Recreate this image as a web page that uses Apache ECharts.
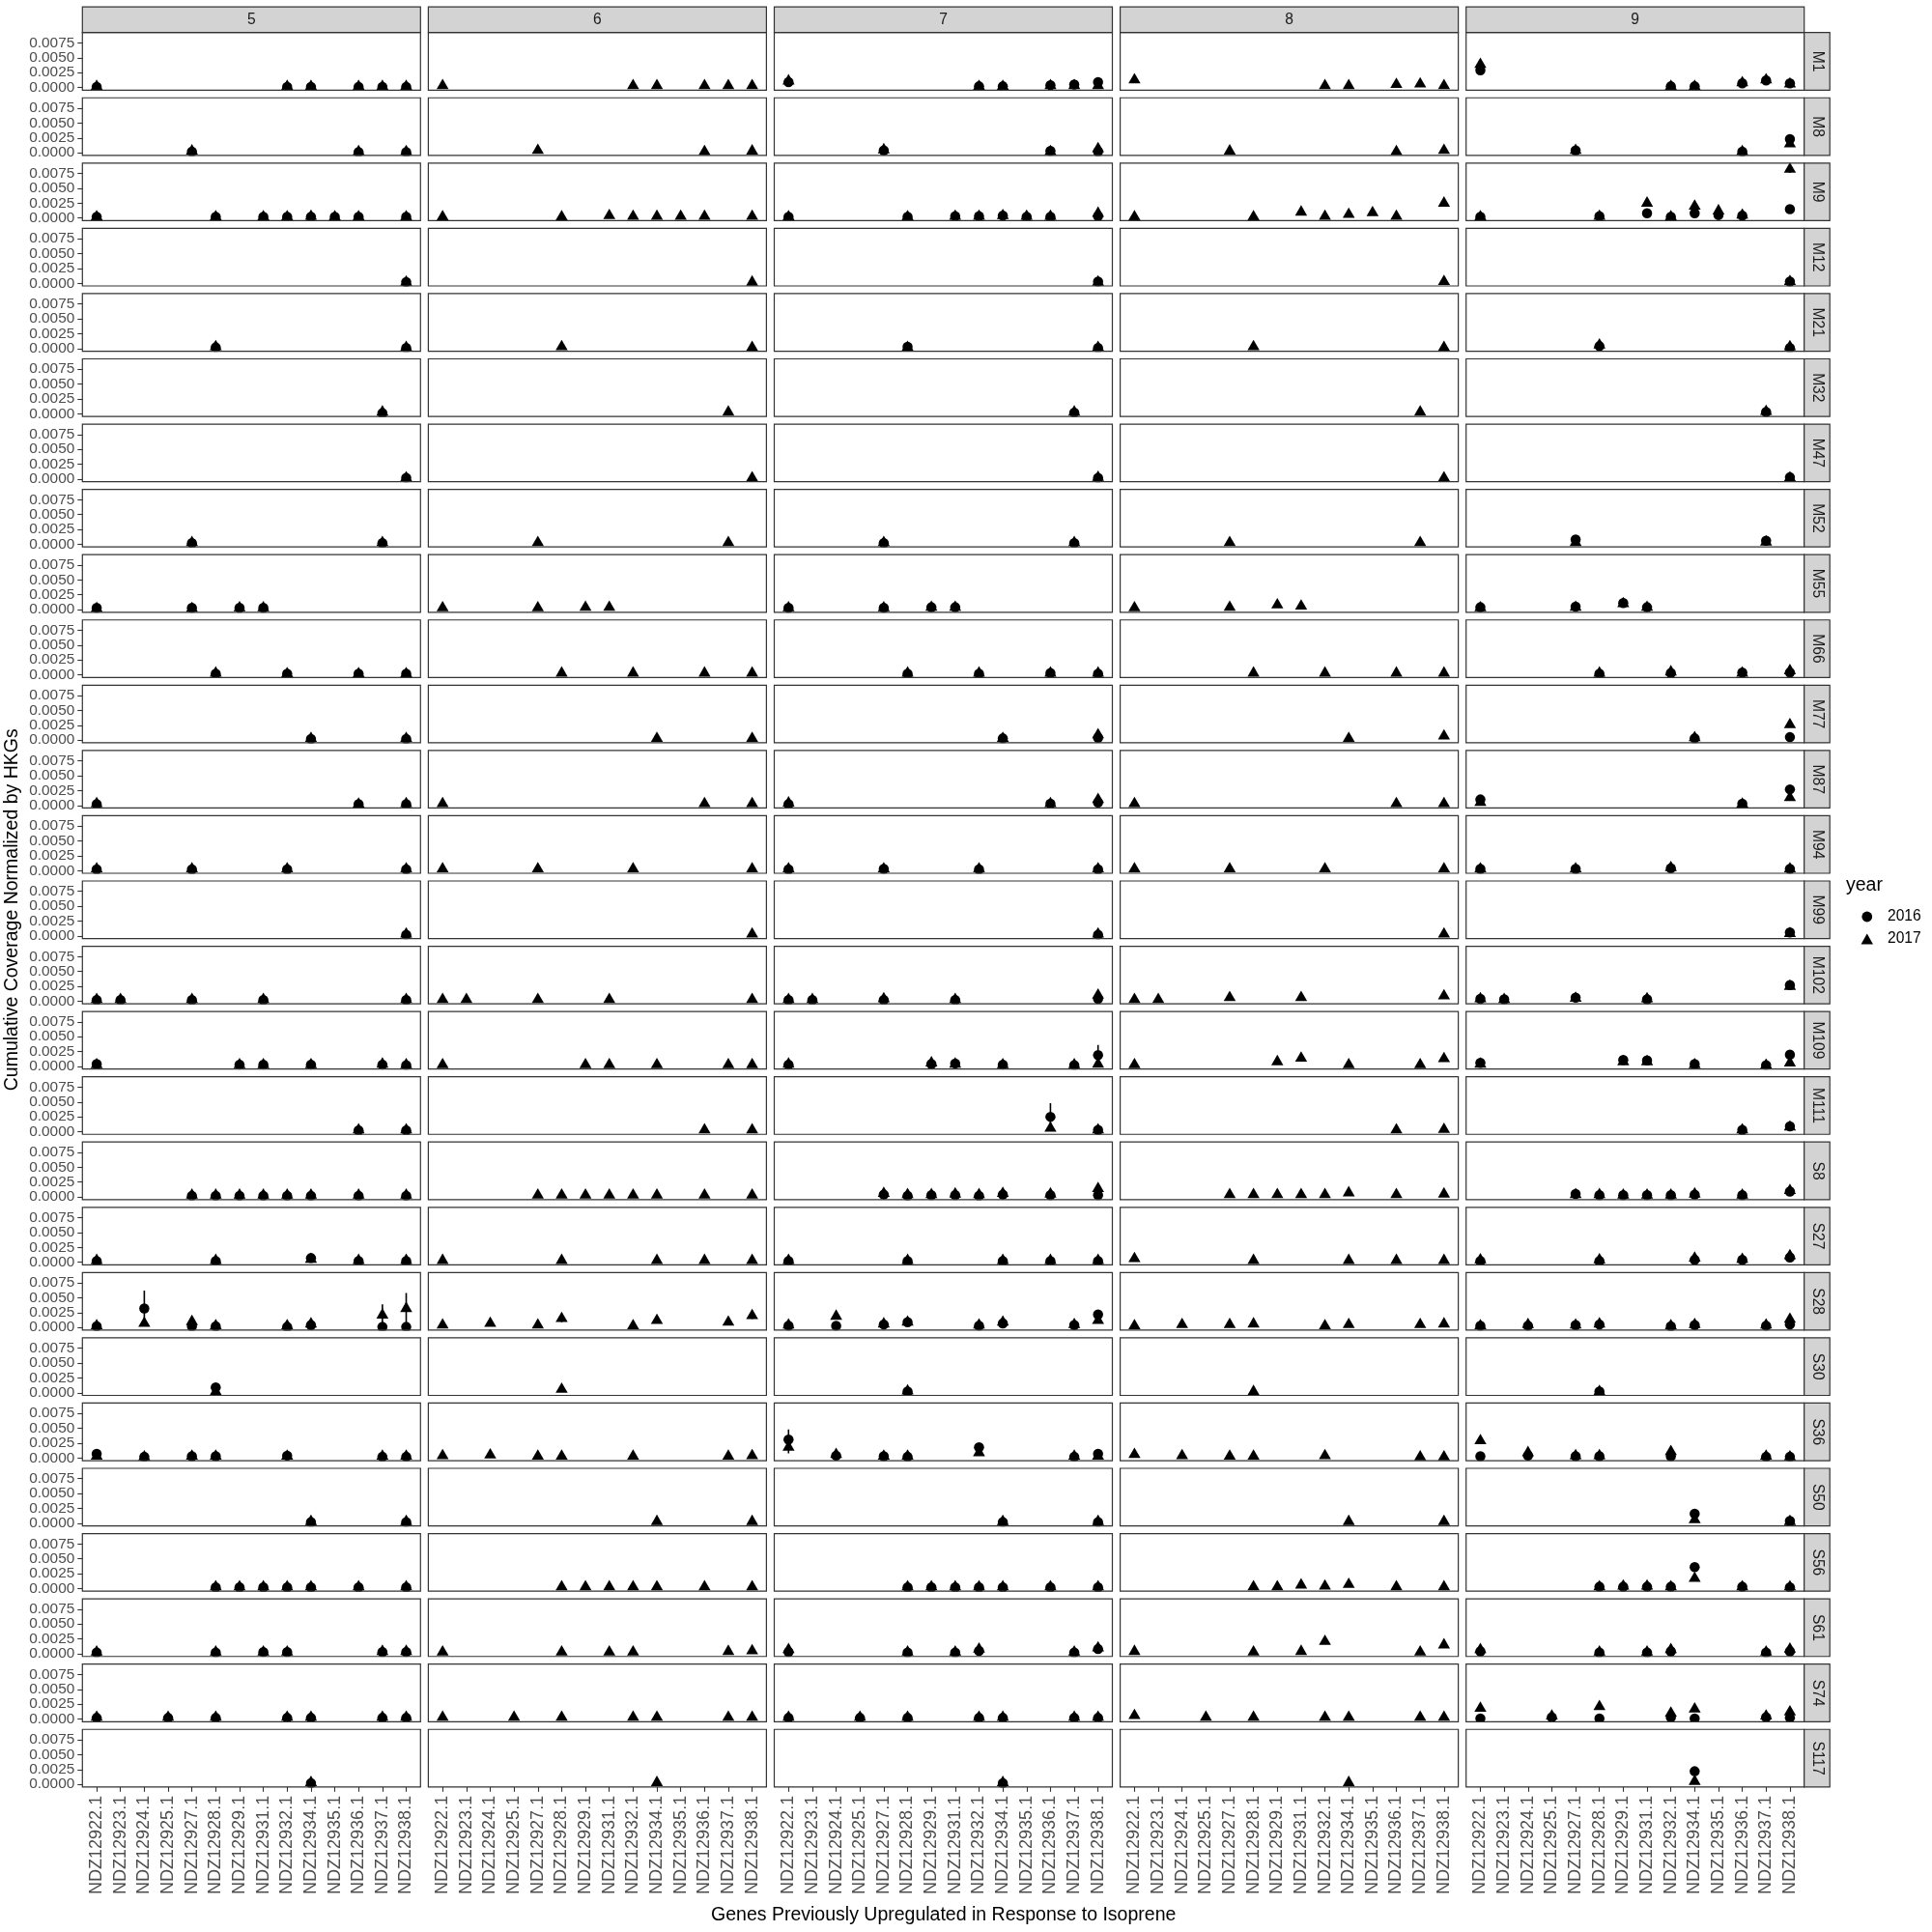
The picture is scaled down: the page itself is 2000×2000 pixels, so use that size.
<!DOCTYPE html>
<html>
<head>
<meta charset="utf-8">
<script src="https://cdn.jsdelivr.net/npm/echarts@6/dist/echarts.min.js"></script>
<style>html,body{margin:0;padding:0;background:#fff;}#chart{width:2000px;height:2000px;}</style>
</head>
<body>
<div id="chart"></div>
<script>
// ---------------- data ----------------
const genes = ['NDZ12922.1','NDZ12923.1','NDZ12924.1','NDZ12925.1','NDZ12927.1','NDZ12928.1','NDZ12929.1','NDZ12931.1','NDZ12932.1','NDZ12934.1','NDZ12935.1','NDZ12936.1','NDZ12937.1','NDZ12938.1'];
const sites = ['5','6','7','8','9'];
const mags = ['M1','M8','M9','M12','M21','M32','M47','M52','M55','M66','M77','M87','M94','M99','M102','M109','M111','S8','S27','S28','S30','S36','S50','S56','S61','S74','S117'];
const yTicks = [0, 0.0025, 0.005, 0.0075];
const years = ['2016', '2017'];

// gene indices detected for each MAG (same order as mags)
const magGenes = [
  [0,8,9,11,12,13], [4,11,13], [0,5,7,8,9,10,11,13], [13], [5,13], [12], [13], [4,12],
  [0,4,6,7], [5,8,11,13], [9,13], [0,11,13], [0,4,8,13], [13], [0,1,4,7,13],
  [0,6,7,9,12,13], [11,13], [4,5,6,7,8,9,11,13], [0,5,9,11,13], [0,2,4,5,8,9,12,13],
  [5], [0,2,4,5,8,12,13], [9,13], [5,6,7,8,9,11,13], [0,5,7,8,12,13], [0,3,5,8,9,12,13], [9]
];

// values per site (5,6,7,8,9), one entry per detected gene; null = not sampled
const M1_2016 = [[0.0001,0.0001,0.0001,0.0001,0.0001,0.0001], null, [0.0009,0.0002,0.0002,0.0004,0.0005,0.0009], null, [0.0029,0.0002,0.0002,0.0007,0.0012,0.0007]];
const M1_2017 = [[0.0002,0.0002,0.0002,0.0002,0.0002,0.0002], [0.0003,0.0003,0.0003,0.0003,0.0003,0.0003], [0.0011,0.0002,0.0002,0.0003,0.0003,0.0003], [0.0013,0.0003,0.0003,0.0005,0.0006,0.0003], [0.0039,0.0002,0.0002,0.0008,0.0013,0.0006]];
const M8_2016 = [[0.0002,0.0001,0.0001], null, [0.0004,0.0003,0.0002], null, [0.0004,0.0002,0.0023]];
const M8_2017 = [[0.0003,0.0002,0.0002], [0.0004,0.0002,0.0003], [0.0005,0.0002,0.0007], [0.0003,0.0002,0.0004], [0.0004,0.0002,0.0015]];
const M9_2016 = [[0.0002,0.0002,0.0002,0.0002,0.0002,0.0002,0.0002,0.0002], null, [0.0002,0.0002,0.0003,0.0003,0.0004,0.0002,0.0002,0.0003], null, [0.0002,0.0003,0.0008,0.0002,0.0008,0.0005,0.0004,0.0015]];
const M9_2017 = [[0.0002,0.0002,0.0002,0.0002,0.0003,0.0002,0.0002,0.0002], [0.0002,0.0002,0.0004,0.0003,0.0003,0.0003,0.0003,0.0003], [0.0002,0.0002,0.0003,0.0003,0.0004,0.0003,0.0003,0.0008], [0.0002,0.0002,0.0010,0.0003,0.0006,0.0009,0.0003,0.0025], [0.0002,0.0003,0.0025,0.0002,0.0020,0.0012,0.0005,0.0082]];
const M12_2016 = [[0.0002], null, [0.0003], null, [0.0003]];
const M12_2017 = [[0.0002], [0.0002], [0.0002], [0.0003], [0.0003]];
const M21_2016 = [[0.0002,0.0001], null, [0.0003,0.0001], null, [0.0004,0.0001]];
const M21_2017 = [[0.0003,0.0002], [0.0003,0.0002], [0.0002,0.0002], [0.0003,0.0002], [0.0006,0.0003]];
const M32_2016 = [[0.0001], null, [0.0002], null, [0.0003]];
const M32_2017 = [[0.0003], [0.0003], [0.0003], [0.0003], [0.0004]];
const M47_2016 = [[0.0002], null, [0.0002], null, [0.0003]];
const M47_2017 = [[0.0002], [0.0002], [0.0003], [0.0002], [0.0002]];
const M52_2016 = [[0.0002,0.0002], null, [0.0002,0.0002], null, [0.0008,0.0006]];
const M52_2017 = [[0.0003,0.0003], [0.0003,0.0003], [0.0003,0.0003], [0.0003,0.0003], [0.0003,0.0004]];
const M55_2016 = [[0.0003,0.0003,0.0003,0.0003], null, [0.0003,0.0003,0.0004,0.0004], null, [0.0004,0.0005,0.0011,0.0004]];
const M55_2017 = [[0.0002,0.0002,0.0003,0.0003], [0.0003,0.0003,0.0004,0.0004], [0.0003,0.0003,0.0004,0.0004], [0.0003,0.0004,0.0008,0.0006], [0.0003,0.0004,0.0010,0.0004]];
const M66_2016 = [[0.0002,0.0002,0.0002,0.0002], null, [0.0002,0.0002,0.0003,0.0002], null, [0.0002,0.0003,0.0004,0.0004]];
const M66_2017 = [[0.0003,0.0002,0.0002,0.0002], [0.0003,0.0003,0.0003,0.0003], [0.0003,0.0003,0.0003,0.0003], [0.0003,0.0003,0.0003,0.0003], [0.0003,0.0005,0.0003,0.0007]];
const M77_2016 = [[0.0002,0.0002], null, [0.0003,0.0004], null, [0.0003,0.0005]];
const M77_2017 = [[0.0003,0.0003], [0.0003,0.0003], [0.0003,0.0009], [0.0003,0.0007], [0.0004,0.0026]];
const M87_2016 = [[0.0002,0.0002,0.0002], null, [0.0002,0.0003,0.0005], null, [0.0010,0.0003,0.0027]];
const M87_2017 = [[0.0003,0.0002,0.0003], [0.0003,0.0003,0.0003], [0.0004,0.0003,0.0010], [0.0003,0.0003,0.0003], [0.0005,0.0002,0.0013]];
const M94_2016 = [[0.0002,0.0002,0.0002,0.0002], null, [0.0002,0.0003,0.0002,0.0002], null, [0.0003,0.0003,0.0004,0.0003]];
const M94_2017 = [[0.0003,0.0003,0.0003,0.0003], [0.0003,0.0003,0.0003,0.0003], [0.0003,0.0003,0.0003,0.0003], [0.0003,0.0003,0.0003,0.0003], [0.0003,0.0003,0.0005,0.0003]];
const M99_2016 = [[0.0002], null, [0.0002], null, [0.0006]];
const M99_2017 = [[0.0003], [0.0003], [0.0003], [0.0003], [0.0004]];
const M102_2016 = [[0.0002,0.0002,0.0002,0.0002,0.0002], null, [0.0002,0.0002,0.0002,0.0002,0.0004], null, [0.0004,0.0003,0.0006,0.0003,0.0027]];
const M102_2017 = [[0.0003,0.0003,0.0003,0.0003,0.0003], [0.0003,0.0003,0.0003,0.0003,0.0003], [0.0003,0.0003,0.0004,0.0003,0.0010], [0.0003,0.0003,0.0006,0.0006,0.0009], [0.0004,0.0003,0.0005,0.0004,0.0025]];
const M109_2016 = [[0.0004,0.0003,0.0003,0.0003,0.0003,0.0002], null, [0.0003,0.0004,0.0005,0.0003,0.0002,0.0019], null, [0.0006,0.0011,0.0010,0.0004,0.0002,0.0020]];
const M109_2017 = [[0.0003,0.0003,0.0003,0.0003,0.0004,0.0003], [0.0003,0.0003,0.0003,0.0003,0.0003,0.0003], [0.0004,0.0006,0.0004,0.0003,0.0003,0.0004], [0.0003,0.0008,0.0014,0.0003,0.0003,0.0013], [0.0004,0.0008,0.0008,0.0003,0.0002,0.0006]];
const M111_2016 = [[0.0002,0.0002], null, [0.0025,0.0003], null, [0.0003,0.0009]];
const M111_2017 = [[0.0003,0.0003], [0.0003,0.0003], [0.0006,0.0003], [0.0003,0.0004], [0.0003,0.0008]];
const S8_2016 = [[0.0002,0.0002,0.0002,0.0002,0.0002,0.0002,0.0002,0.0002], null, [0.0004,0.0002,0.0003,0.0003,0.0002,0.0004,0.0003,0.0003], null, [0.0005,0.0003,0.0003,0.0003,0.0003,0.0004,0.0003,0.0009]];
const S8_2017 = [[0.0003,0.0003,0.0003,0.0003,0.0003,0.0003,0.0003,0.0003], [0.0003,0.0003,0.0003,0.0003,0.0003,0.0003,0.0003,0.0003], [0.0006,0.0004,0.0004,0.0005,0.0004,0.0006,0.0005,0.0014], [0.0004,0.0004,0.0004,0.0004,0.0004,0.0007,0.0004,0.0005], [0.0004,0.0004,0.0003,0.0003,0.0003,0.0005,0.0003,0.0011]];
const S27_2016 = [[0.0002,0.0002,0.0007,0.0002,0.0002], null, [0.0002,0.0002,0.0002,0.0002,0.0002], null, [0.0002,0.0002,0.0004,0.0004,0.0008]];
const S27_2017 = [[0.0003,0.0003,0.0005,0.0003,0.0003], [0.0003,0.0003,0.0003,0.0003,0.0003], [0.0003,0.0003,0.0003,0.0003,0.0003], [0.0006,0.0003,0.0003,0.0003,0.0003], [0.0004,0.0004,0.0007,0.0005,0.0011]];
const S28_2016 = [[0.0002,0.0032,0.0002,0.0002,0.0001,0.0004,0.0001,0.0001], null, [0.0003,0.0003,0.0005,0.0009,0.0003,0.0007,0.0004,0.0022], null, [0.0003,0.0003,0.0004,0.0005,0.0002,0.0004,0.0003,0.0005]];
const S28_2017 = [[0.0003,0.0007,0.0010,0.0003,0.0003,0.0006,0.0021,0.0032], [0.0004,0.0007,0.0004,0.0015,0.0003,0.0012,0.0009,0.0020], [0.0004,0.0019,0.0006,0.0009,0.0004,0.0009,0.0005,0.0012], [0.0003,0.0005,0.0005,0.0006,0.0003,0.0005,0.0005,0.0006], [0.0003,0.0005,0.0004,0.0006,0.0003,0.0005,0.0004,0.0014]];
const S30_2016 = [[0.0009], null, [0.0002], null, [0.0002]];
const S30_2017 = [[0.0002], [0.0006], [0.0003], [0.0002], [0.0002]];
const S36_2016 = [[0.0007,0.0002,0.0003,0.0003,0.0004,0.0002,0.0002], null, [0.0031,0.0004,0.0003,0.0002,0.0018,0.0002,0.0007], null, [0.0003,0.0004,0.0003,0.0003,0.0003,0.0002,0.0002]];
const S36_2017 = [[0.0003,0.0002,0.0003,0.0003,0.0003,0.0003,0.0003], [0.0004,0.0005,0.0003,0.0003,0.0003,0.0003,0.0004], [0.0018,0.0006,0.0003,0.0003,0.0009,0.0003,0.0003], [0.0006,0.0004,0.0003,0.0003,0.0004,0.0002,0.0002], [0.0029,0.0009,0.0004,0.0004,0.0011,0.0003,0.0002]];
const S50_2016 = [[0.0002,0.0002], null, [0.0002,0.0002], null, [0.0016,0.0004]];
const S50_2017 = [[0.0003,0.0003], [0.0003,0.0003], [0.0003,0.0003], [0.0003,0.0003], [0.0006,0.0003]];
const S56_2016 = [[0.0002,0.0002,0.0002,0.0002,0.0002,0.0002,0.0002], null, [0.0002,0.0002,0.0002,0.0002,0.0002,0.0002,0.0002], null, [0.0003,0.0003,0.0003,0.0003,0.0036,0.0003,0.0002]];
const S56_2017 = [[0.0003,0.0003,0.0003,0.0003,0.0003,0.0003,0.0003], [0.0003,0.0003,0.0003,0.0003,0.0003,0.0003,0.0003], [0.0003,0.0003,0.0003,0.0003,0.0003,0.0003,0.0003], [0.0003,0.0003,0.0006,0.0004,0.0007,0.0003,0.0003], [0.0003,0.0004,0.0004,0.0003,0.0017,0.0003,0.0003]];
const S61_2016 = [[0.0002,0.0002,0.0003,0.0003,0.0003,0.0003], null, [0.0003,0.0002,0.0002,0.0005,0.0002,0.0008], null, [0.0004,0.0002,0.0002,0.0004,0.0002,0.0004]];
const S61_2017 = [[0.0003,0.0003,0.0003,0.0003,0.0004,0.0004], [0.0003,0.0003,0.0003,0.0003,0.0004,0.0005], [0.0007,0.0003,0.0003,0.0008,0.0003,0.0010], [0.0004,0.0003,0.0004,0.0021,0.0003,0.0015], [0.0007,0.0003,0.0003,0.0007,0.0003,0.0008]];
const S74_2016 = [[0.0002,0.0002,0.0002,0.0002,0.0002,0.0002,0.0002], null, [0.0002,0.0002,0.0002,0.0002,0.0002,0.0002,0.0002], null, [0.0001,0.0003,0.0001,0.0003,0.0001,0.0003,0.0002]];
const S74_2017 = [[0.0003,0.0003,0.0003,0.0003,0.0003,0.0003,0.0003], [0.0003,0.0003,0.0003,0.0003,0.0003,0.0003,0.0003], [0.0003,0.0003,0.0003,0.0003,0.0003,0.0003,0.0003], [0.0006,0.0003,0.0003,0.0003,0.0003,0.0003,0.0003], [0.0018,0.0005,0.0021,0.0010,0.0017,0.0005,0.0012]];
const S117_2016 = [[0.0002], null, [0.0002], null, [0.0022]];
const S117_2017 = [[0.0003], [0.0003], [0.0003], [0.0003], [0.0005]];

const magValues = [
  [M1_2016, M1_2017], [M8_2016, M8_2017], [M9_2016, M9_2017], [M12_2016, M12_2017], [M21_2016, M21_2017],
  [M32_2016, M32_2017], [M47_2016, M47_2017], [M52_2016, M52_2017], [M55_2016, M55_2017], [M66_2016, M66_2017],
  [M77_2016, M77_2017], [M87_2016, M87_2017], [M94_2016, M94_2017], [M99_2016, M99_2017], [M102_2016, M102_2017],
  [M109_2016, M109_2017], [M111_2016, M111_2017], [S8_2016, S8_2017], [S27_2016, S27_2017], [S28_2016, S28_2017],
  [S30_2016, S30_2017], [S36_2016, S36_2017], [S50_2016, S50_2017], [S56_2016, S56_2017], [S61_2016, S61_2017],
  [S74_2016, S74_2017], [S117_2016, S117_2017]
];

// visible error bars: [mag, site, gene index, year, low, high]
const errorBars = [
  ['M9', '9', 13, '2017', 0.0076, 0.0088],
  ['M109', '7', 13, '2016', 0.0003, 0.0036],
  ['M111', '7', 11, '2016', 0.0002, 0.0048],
  ['S28', '5', 2, '2016', 0.0002, 0.0062],
  ['S28', '5', 12, '2017', 0.0007, 0.0039],
  ['S28', '5', 13, '2017', 0.0006, 0.0058],
  ['S28', '6', 5, '2017', 0.0009, 0.0021],
  ['S28', '6', 13, '2017', 0.0014, 0.0026],
  ['S36', '7', 0, '2016', 0.0014, 0.0048],
  ['S36', '7', 0, '2017', 0.0008, 0.0028]
];

// ---------------- layout ----------------
const FONT = 'Liberation Sans, Arial, sans-serif';
const L0 = 85.3, PX = 358.1, PW = 350;
const T0 = 33.7, PY = 67.56, PH = 59.6;
const STRIP = 26.5;
const Y_MIN = -0.00044, Y_MAX = 0.00924;
const xTickVals = genes.map((g, i) => i);

const grids = [], xAxes = [], yAxes = [], series = [], graphics = [];
const lastRow = mags.length - 1;
const panelsRight = L0 + 4 * PX + PW;

mags.forEach((mag, r) => {
  sites.forEach((site, c) => {
    const gi = grids.length;
    const left = L0 + c * PX, top = T0 + r * PY;
    grids.push({left: left, top: top, width: PW, height: PH, show: false, containLabel: false});
    xAxes.push({
      type: 'value', gridIndex: gi, min: -0.6, max: 13.6, position: 'bottom', z: 10,
      splitLine: {show: false}, axisLine: {show: false, onZero: false},
      axisTick: {show: r === lastRow, customValues: xTickVals, length: 5, lineStyle: {color: '#333333', width: 1.1}},
      axisLabel: {show: r === lastRow, customValues: xTickVals, formatter: v => genes[Math.round(v)],
        rotate: 90, margin: 9, fontSize: 18, color: '#4D4D4D', fontFamily: FONT}
    });
    yAxes.push({
      type: 'value', gridIndex: gi, min: Y_MIN, max: Y_MAX, position: 'left', z: 10,
      splitLine: {show: false}, axisLine: {show: false, onZero: false},
      axisTick: {show: c === 0, customValues: yTicks, length: 5, lineStyle: {color: '#333333', width: 1.1}},
      axisLabel: {show: c === 0, customValues: yTicks, formatter: v => v.toFixed(4),
        margin: 8, fontSize: 15.4, color: '#4D4D4D', fontFamily: FONT}
    });
    years.forEach((yr, yi) => {
      const vals = magValues[r][yi][c];
      if (!vals) return;
      series.push({
        type: 'scatter', name: yr, xAxisIndex: gi, yAxisIndex: gi,
        symbol: yi === 0 ? 'circle' : 'triangle',
        symbolSize: yi === 0 ? 10.5 : [12.5, 10.8],
        symbolOffset: yi === 0 ? [0, 0] : [0, -1.8],
        itemStyle: {color: '#000000', opacity: 1}, z: 3 + yi, clip: false, silent: true,
        data: magGenes[r].map((g, k) => [g, vals[k]])
      });
    });
    // panel frame drawn above the marks (like ggplot's panel.border)
    graphics.push({type: 'rect', z: 7, silent: true, shape: {x: left, y: top, width: PW, height: PH},
      style: {fill: null, stroke: '#333333', lineWidth: 1.2}});
  });
  // white mask under each panel row: clips marks that spill past the panel bottom
  const bottom = T0 + r * PY + PH;
  const maskH = r === lastRow ? 6 : (PY - PH - 1.2);
  graphics.push({type: 'rect', z: 6, silent: true,
    shape: {x: L0 - 2, y: bottom + 0.6, width: panelsRight - L0 + 4, height: maskH},
    style: {fill: '#ffffff', stroke: null}});
});

errorBars.forEach(e => {
  const r = mags.indexOf(e[0]), c = sites.indexOf(e[1]);
  const gi = r * sites.length + c;
  series.push({
    type: 'line', xAxisIndex: gi, yAxisIndex: gi, symbol: 'none', silent: true, z: 2,
    lineStyle: {color: '#000000', width: 1.6}, data: [[e[2], e[4]], [e[2], e[5]]]
  });
});

// strips
sites.forEach((s, c) => {
  const left = L0 + c * PX;
  graphics.push({type: 'rect', z: 7, shape: {x: left, y: T0 - STRIP, width: PW, height: STRIP},
    style: {fill: '#D3D3D3', stroke: '#333333', lineWidth: 1.2}});
  graphics.push({type: 'text', z: 8, x: left + PW / 2, y: T0 - STRIP / 2,
    style: {text: s, align: 'center', verticalAlign: 'middle', font: '15.6px ' + FONT, fill: '#1A1A1A'}});
});
mags.forEach((m, r) => {
  const top = T0 + r * PY;
  graphics.push({type: 'rect', z: 7, shape: {x: panelsRight, y: top, width: STRIP, height: PH},
    style: {fill: '#D3D3D3', stroke: '#333333', lineWidth: 1.2}});
  graphics.push({type: 'text', z: 8, x: panelsRight + STRIP / 2, y: top + PH / 2, rotation: -Math.PI / 2,
    style: {text: m, align: 'center', verticalAlign: 'middle', font: '15.6px ' + FONT, fill: '#1A1A1A'}});
});
// axis titles
graphics.push({type: 'text', x: 976.7, y: 1983,
  style: {text: 'Genes Previously Upregulated in Response to Isoprene', align: 'center', verticalAlign: 'middle', font: '19.5px ' + FONT, fill: '#000000'}});
graphics.push({type: 'text', x: 13, y: T0 + (lastRow * PY + PH) / 2, rotation: Math.PI / 2,
  style: {text: 'Cumulative Coverage Normalized by HKGs', align: 'center', verticalAlign: 'middle', font: '19.5px ' + FONT, fill: '#000000'}});
// legend title
graphics.push({type: 'text', x: 1911, y: 917,
  style: {text: 'year', align: 'left', verticalAlign: 'middle', font: '19.5px ' + FONT, fill: '#000000'}});

const chart = echarts.init(document.getElementById('chart'), null, {renderer: 'canvas', width: 2000, height: 2000});
chart.setOption({
  animation: false,
  backgroundColor: '#ffffff',
  grid: grids, xAxis: xAxes, yAxis: yAxes, series: series,
  legend: {
    show: true, orient: 'vertical', left: 1921.5, top: 935,
    itemWidth: 12.5, itemHeight: 10.8, itemGap: 5,
    data: [{name: '2016', icon: 'circle'}, {name: '2017', icon: 'triangle'}],
    textStyle: {fontSize: 15.6, fontFamily: FONT, color: '#000000', lineHeight: 18, padding: [0, 0, 0, 10]},
    selectedMode: false, itemStyle: {color: '#000000', opacity: 1}
  },
  graphic: graphics
});
</script>
</body>
</html>
